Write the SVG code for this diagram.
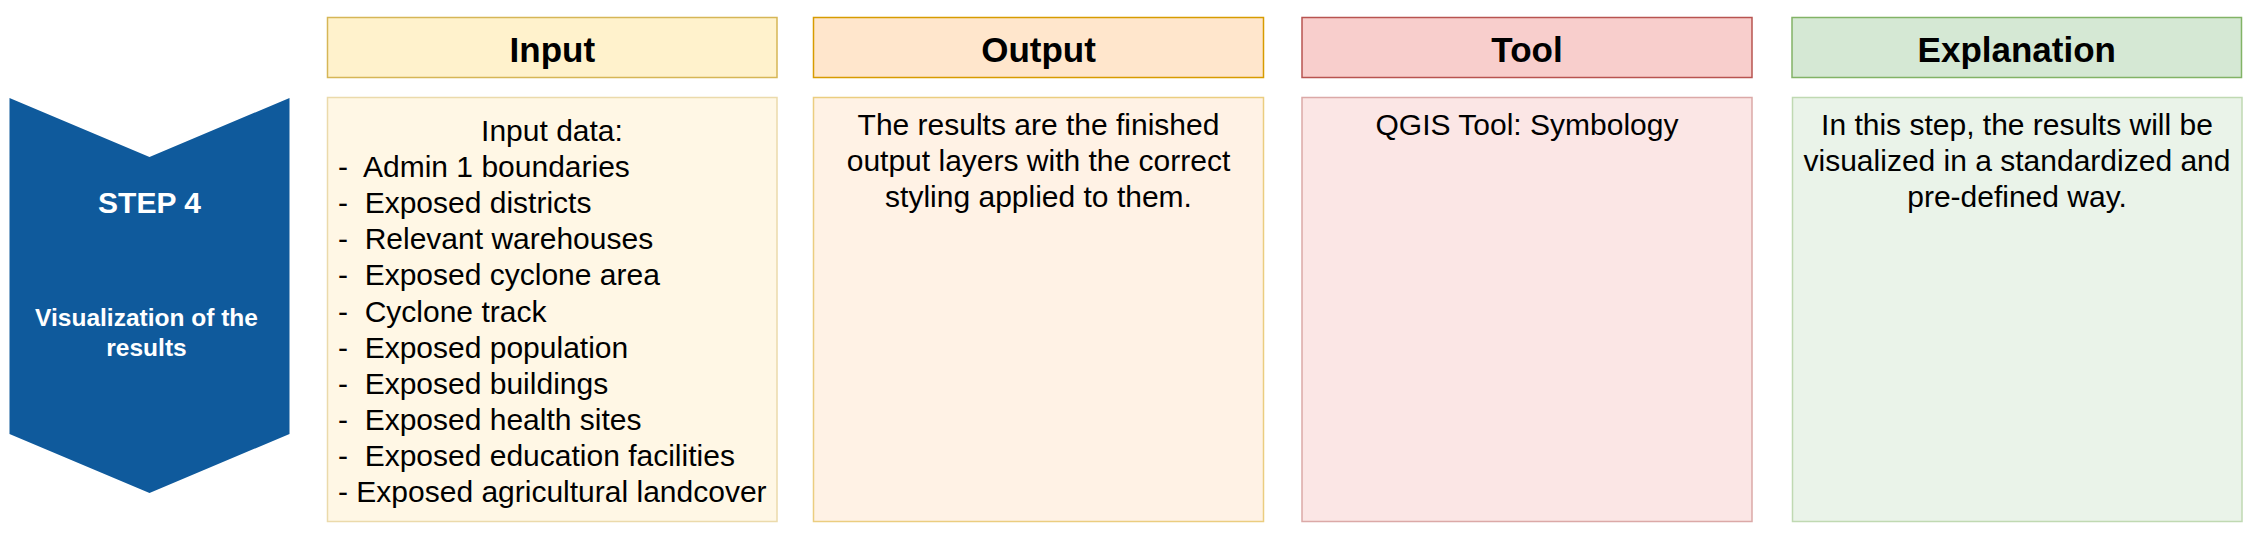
<svg xmlns="http://www.w3.org/2000/svg" width="2266" height="534" viewBox="0 0 2266 534">
<style>
text{font-family:"Liberation Sans",Arial,Helvetica,sans-serif;fill:#000}
.hd{font-size:35px;font-weight:bold;text-anchor:middle}
.bd{font-size:30px}
.c{text-anchor:middle}
.pre{white-space:pre}
.st{fill:#fff;font-weight:bold;text-anchor:middle}
rect{stroke-width:1.5}
</style>
<rect width="2266" height="534" fill="#ffffff"/>
<g id="step4">
<path d="M9.5,98 L149.5,157 L289.5,98 L289.5,434 L149.5,493 L9.5,434 Z" fill="#0f5a9c"/>
<text class="st" x="149.5" y="213.3" font-size="30">STEP 4</text>
<text class="st" x="146.5" y="325.7" font-size="24.5">Visualization of the</text>
<text class="st" x="146.5" y="355.7" font-size="24.5">results</text>
</g>
<g id="input-header">
<rect x="327.5" y="17.5" width="449.5" height="60" fill="#fff2cc" stroke="#d6b656"/>
<text class="hd" x="552.3" y="61.5">Input</text>
</g>
<g id="input-body">
<rect x="327.5" y="97.5" width="449.5" height="424" fill="#fff7e5" stroke="#ebdaab"/>
<text class="bd c" x="552" y="141">Input data:</text>
<text class="bd pre" xml:space="preserve" x="338" y="177.1">-  Admin 1 boundaries</text>
<text class="bd pre" xml:space="preserve" x="338" y="213.2">-  Exposed districts</text>
<text class="bd pre" xml:space="preserve" x="338" y="249.3">-  Relevant warehouses</text>
<text class="bd pre" xml:space="preserve" x="338" y="285.4">-  Exposed cyclone area</text>
<text class="bd pre" xml:space="preserve" x="338" y="321.5">-  Cyclone track</text>
<text class="bd pre" xml:space="preserve" x="338" y="357.6">-  Exposed population</text>
<text class="bd pre" xml:space="preserve" x="338" y="393.7">-  Exposed buildings</text>
<text class="bd pre" xml:space="preserve" x="338" y="429.8">-  Exposed health sites</text>
<text class="bd pre" xml:space="preserve" x="338" y="465.9">-  Exposed education facilities</text>
<text class="bd" x="338" y="502">- Exposed agricultural landcover</text>
</g>
<g id="output-header">
<rect x="813.5" y="17.5" width="450" height="60" fill="#ffe6cc" stroke="#d79b00"/>
<text class="hd" x="1038.5" y="61.5">Output</text>
</g>
<g id="output-body">
<rect x="813.5" y="97.5" width="450" height="424" fill="#fff2e5" stroke="#ebcd80"/>
<text class="bd c" x="1038.5" y="135">The results are the finished</text>
<text class="bd c" x="1038.5" y="171">output layers with the correct</text>
<text class="bd c" x="1038.5" y="207">styling applied to them.</text>
</g>
<g id="tool-header">
<rect x="1302" y="17.5" width="450" height="60" fill="#f8cecc" stroke="#b85450"/>
<text class="hd" x="1527" y="61.5">Tool</text>
</g>
<g id="tool-body">
<rect x="1302" y="97.5" width="450" height="424" fill="#fbe6e5" stroke="#dba9a7"/>
<text class="bd c" x="1527" y="135">QGIS Tool: Symbology</text>
</g>
<g id="explanation-header">
<rect x="1792" y="17.5" width="449.5" height="60" fill="#d5e8d4" stroke="#82b366"/>
<text class="hd" x="2016.8" y="61.5">Explanation</text>
</g>
<g id="explanation-body">
<rect x="1792.5" y="97.5" width="449.5" height="424" fill="#eaf3e9" stroke="#c0d9b2"/>
<text class="bd c" x="2017" y="135">In this step, the results will be</text>
<text class="bd c" x="2017" y="171">visualized in a standardized and</text>
<text class="bd c" x="2017" y="207">pre-defined way.</text>
</g>
<g id="connectors"></g>
</svg>
